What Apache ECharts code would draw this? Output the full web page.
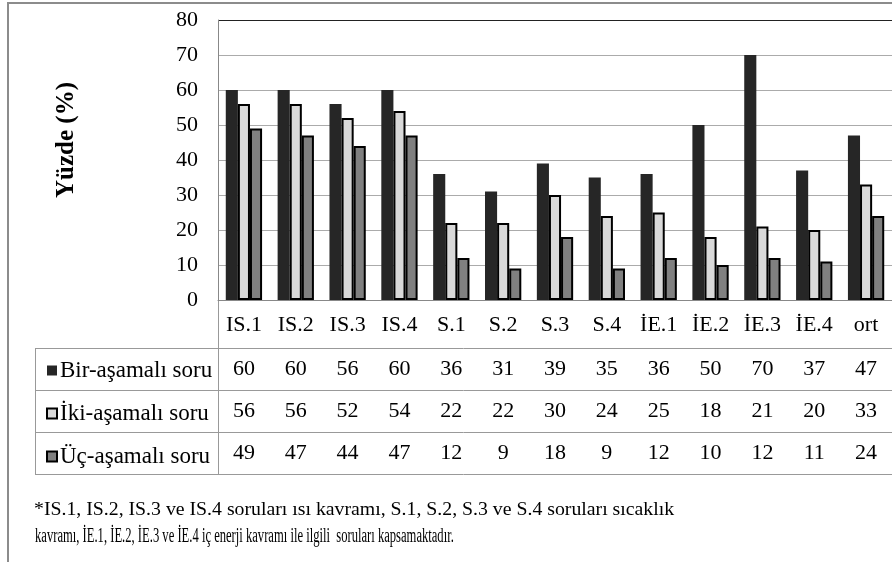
<!DOCTYPE html>
<html>
<head>
<meta charset="utf-8">
<script src="https://cdn.jsdelivr.net/npm/echarts@6/dist/echarts.min.js"></script>
<style>
html,body{margin:0;padding:0;background:#fff}
#chart{width:892px;height:562px}
</style>
</head>
<body>
<div id="chart"></div>
<script>
// data (table under the chart)
var categories = ['IS.1','IS.2','IS.3','IS.4','S.1','S.2','S.3','S.4','İE.1','İE.2','İE.3','İE.4','ort'];
var birAsamali = [60,60,56,60,36,31,39,35,36,50,70,37,47];
var ikiAsamali = [56,56,52,54,22,22,30,24,25,18,21,20,33];
var ucAsamali  = [49,47,44,47,12,9,18,9,12,10,12,11,24];
var seriesNames = ['Bir-aşamalı soru','İki-aşamalı soru','Üç-aşamalı soru'];
var yMin = 0, yMax = 80, yStep = 10;
var yTitle = 'Yüzde (%)';
var note1 = '*IS.1, IS.2, IS.3 ve IS.4 soruları ısı kavramı, S.1, S.2, S.3 ve S.4 soruları sıcaklık';
var note2 = 'kavramı, İE.1, İE.2, İE.3 ve İE.4 iç enerji kavramı ile ilgili  soruları kapsamaktadır.';

var FONT = '"Liberation Serif","Times New Roman",serif';
var gridGray = '#ababab';
var tableGray = '#999999';

window.onload = function(){
	var chart = echarts.init(document.getElementById('chart'));

	// one extra x axis per table row, so the values sit under their category
	function rowAxis(vals, off){
		return {
			type: 'category', gridIndex: 0, position: 'bottom', offset: off,
			data: vals.map(String),
			axisLine: {show: false}, axisTick: {show: false},
			axisLabel: {fontFamily: FONT, fontSize: 22, color: '#000', margin: 14, interval: 0}
		};
	}

	var splitColors = [];
	for (var v = yMin; v <= yMax; v += yStep) splitColors.push(v == yMax ? '#222' : gridGray);

	chart.setOption({
		animation: false,
		grid: {left: 218, top: 20, bottom: 262, right: -10, containLabel: false},
		legend: {
			orient: 'vertical', left: 41, top: 354,
			icon: 'rect',
			itemWidth: 10, itemHeight: 10, itemGap: 20,
			selectedMode: false,
			textStyle: {fontFamily: FONT, fontSize: 23, color: '#000', lineHeight: 22, padding: [0,0,0,-2]},
			data: seriesNames
		},
		xAxis: [
			{
				type: 'category', data: categories,
				axisLine: {show: true, lineStyle: {color: '#888', width: 1}},
				axisTick: {show: false},
				axisLabel: {fontFamily: FONT, fontSize: 22, color: '#000', margin: 14, interval: 0}
			},
			rowAxis(birAsamali, 44),
			rowAxis(ikiAsamali, 86),
			rowAxis(ucAsamali, 128)
		],
		yAxis: {
			type: 'value', min: yMin, max: yMax, interval: yStep,
			axisLine: {show: true, lineStyle: {color: '#888'}},
			axisTick: {show: false},
			axisLabel: {fontFamily: FONT, fontSize: 22, color: '#000', margin: 20},
			splitLine: {lineStyle: {color: splitColors, width: 1}}
		},
		series: [
			{name: seriesNames[0], type: 'bar', data: birAsamali, barGap: '0%', barCategoryGap: '30%',
				itemStyle: {color: '#262626', borderColor: '#111', borderWidth: 0}},
			{name: seriesNames[1], type: 'bar', data: ikiAsamali,
				itemStyle: {color: '#d9d9d9', borderColor: '#000', borderWidth: 2}},
			{name: seriesNames[2], type: 'bar', data: ucAsamali,
				itemStyle: {color: '#808080', borderColor: '#000', borderWidth: 2}}
		],
		graphic: [
			// outer chart frame
			{type: 'rect', shape: {x: 8, y: 3, width: 1000, height: 1000}, style: {fill: 'none', stroke: '#8c8c8c', lineWidth: 2}, silent: true},
			// data table frame
			{type: 'line', shape: {x1: 218.5, y1: 300, x2: 218.5, y2: 474}, style: {stroke: tableGray, lineWidth: 1}},
			{type: 'line', shape: {x1: 35.5, y1: 348, x2: 35.5, y2: 474}, style: {stroke: tableGray, lineWidth: 1}},
			{type: 'line', shape: {x1: 35, y1: 348.5, x2: 892, y2: 348.5}, style: {stroke: tableGray, lineWidth: 1}},
			{type: 'line', shape: {x1: 35, y1: 390.5, x2: 892, y2: 390.5}, style: {stroke: tableGray, lineWidth: 1}},
			{type: 'line', shape: {x1: 35, y1: 432.5, x2: 892, y2: 432.5}, style: {stroke: tableGray, lineWidth: 1}},
			{type: 'line', shape: {x1: 35, y1: 474.5, x2: 892, y2: 474.5}, style: {stroke: tableGray, lineWidth: 1}},
			// y axis title
			{type: 'text', x: 67, y: 140, rotation: Math.PI/2,
				style: {text: yTitle, font: 'bold 25px ' + FONT, fill: '#000', align: 'center', verticalAlign: 'middle'}},
			// footnote
			{type: 'text', x: 34, y: 510,
				style: {text: note1, font: '19.8px ' + FONT, fill: '#000', align: 'left', verticalAlign: 'middle'}},
			{type: 'text', x: 35, y: 537, scaleX: 0.63,
				style: {text: note2, font: '20px ' + FONT, fill: '#000', align: 'left', verticalAlign: 'middle'}}
		]
	});
};
</script>
</body>
</html>
